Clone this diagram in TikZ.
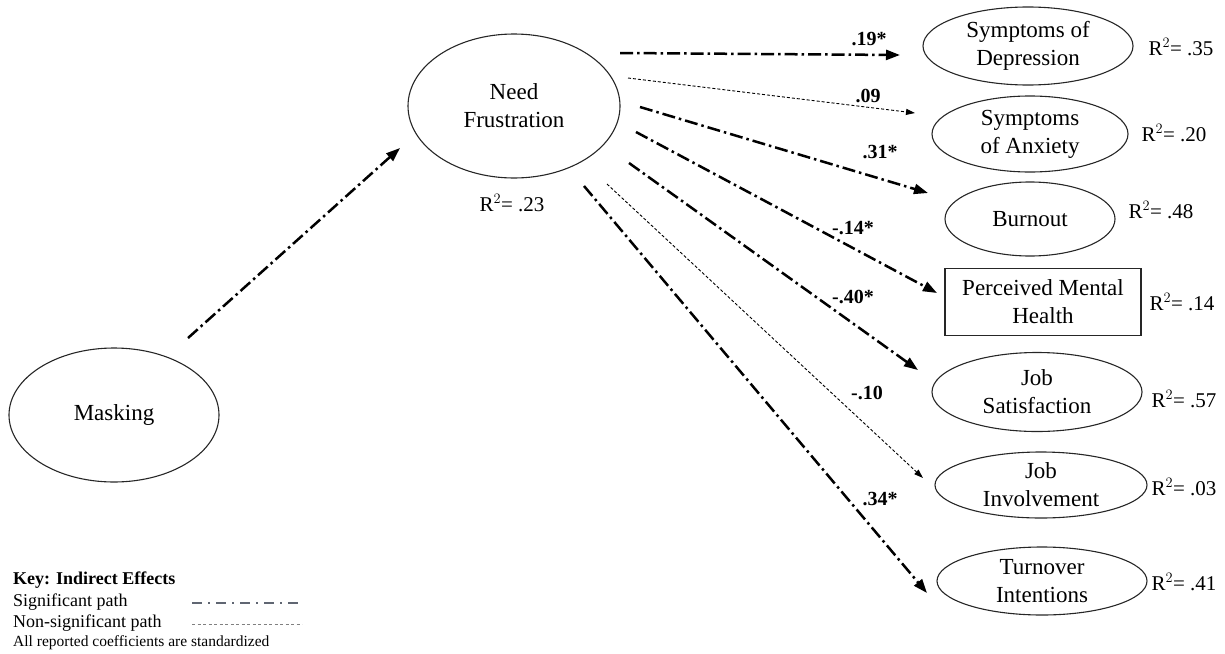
\documentclass[tikz,border=0pt]{standalone}
\usepackage{fontspec}
\setmainfont{Liberation Serif}
\usetikzlibrary{arrows.meta,shapes.geometric}
\definecolor{keygrey}{RGB}{96,102,114}

\begin{document}
\begin{tikzpicture}[x=1pt,y=-1pt,
  latent/.style={ellipse,draw=black!85,line width=1.1pt,inner sep=0pt,align=center,
    font=\fontsize{23}{28}\selectfont},
  observed/.style={rectangle,draw=black!85,line width=1.1pt,inner sep=0pt,align=center,
    font=\fontsize{23}{28}\selectfont},
  rsq/.style={font=\fontsize{21}{25}\selectfont,inner sep=0pt},
  coef/.style={font=\bfseries\fontsize{20}{24}\selectfont,inner sep=0pt},
  keytext/.style={anchor=west,inner sep=0pt,font=\fontsize{18}{22}\selectfont},
  sigpath/.style={line width=2.5pt,dash pattern=on 13pt off 4pt on 2.5pt off 4pt,
    -{Triangle[length=14pt,width=10pt]}},
  nspath/.style={line width=0.9pt,dash pattern=on 3pt off 2pt,
    -{Triangle[length=9pt,width=6pt]}},
]
\useasboundingbox (0,0) rectangle (1225,653);

% constructs
\node[latent,minimum width=210pt,minimum height=134pt] (mask) at (114,415) {Masking};
\node[latent,minimum width=212pt,minimum height=144pt] (nf) at (514,106) {Need\\Frustration};
\node[rsq] (nfr) at (512,203) {R$^2$= .23};

\node[latent,minimum width=210pt,minimum height=78pt] (dep) at (1028,46) {Symptoms of\\Depression};
\node[latent,minimum width=196pt,minimum height=76pt] (anx) at (1030,134) {Symptoms\\of Anxiety};
\node[latent,minimum width=170pt,minimum height=74pt] (burn) at (1030,219) {Burnout};
\node[observed,minimum width=196pt,minimum height=67pt] (pmh) at (1043,302) {Perceived Mental\\Health};
\node[latent,minimum width=210pt,minimum height=79pt] (js) at (1037,392) {Job\\Satisfaction};
\node[latent,minimum width=212pt,minimum height=66pt] (ji) at (1041,485) {Job\\Involvement};
\node[latent,minimum width=210pt,minimum height=68pt] (ti) at (1042,581) {Turnover\\Intentions};

% explained variance
\node[rsq] (depr) at (1181,47) {R$^2$= .35};
\node[rsq] (anxr) at (1174,133) {R$^2$= .20};
\node[rsq] (burnr) at (1161,210) {R$^2$= .48};
\node[rsq] (pmhr) at (1182,302) {R$^2$= .14};
\node[rsq] (jsr) at (1184,399) {R$^2$= .57};
\node[rsq] (jir) at (1184,487) {R$^2$= .03};
\node[rsq] (tir) at (1184,582) {R$^2$= .41};

% path end points
\coordinate (m0) at (188,338);  \coordinate (m1) at (400,148);
\coordinate (a0) at (620,53);   \coordinate (a1) at (900,55);
\coordinate (b0) at (628,78);   \coordinate (b1) at (915,113);
\coordinate (c0) at (640,107);  \coordinate (c1) at (928,193);
\coordinate (d0) at (636,132);  \coordinate (d1) at (937,293);
\coordinate (e0) at (629,163);  \coordinate (e1) at (918,370);
\coordinate (f0) at (607,184);  \coordinate (f1) at (923,478);
\coordinate (g0) at (584,186);  \coordinate (g1) at (927,593);

% paths
\draw[sigpath] (m0) -- (m1);
\draw[sigpath] (a0) -- (a1);
\draw[nspath]  (b0) -- (b1);
\draw[sigpath] (c0) -- (c1);
\draw[sigpath] (d0) -- (d1);
\draw[sigpath] (e0) -- (e1);
\draw[nspath]  (f0) -- (f1);
\draw[sigpath] (g0) -- (g1);

% coefficients
\node[coef] (ka) at (869,39) {.19*};
\node[coef] (kb) at (868,96) {.09};
\node[coef] (kc) at (880,152) {.31*};
\node[coef] (kd) at (853,228) {-.14*};
\node[coef] (ke) at (853,297) {-.40*};
\node[coef] (kf) at (867,393) {-.10};
\node[coef] (kg) at (880,499) {.34*};

% key
\node[keytext,font=\bfseries\fontsize{18}{22}\selectfont] (keyt) at (13,580) {Key: Indirect Effects};
\node[keytext] (keys) at (13,602) {Significant path};
\node[keytext] (keyn) at (13,623) {Non-significant path};
\node[keytext,font=\fontsize{15.5}{19}\selectfont] (keya) at (13,643) {All reported coefficients are standardized};
\coordinate (ls0) at (192,603); \coordinate (ls1) at (302,603);
\coordinate (ln0) at (192,624); \coordinate (ln1) at (302,624);
\draw[line width=1.8pt,draw=keygrey,dash pattern=on 10pt off 6pt on 2pt off 6pt] (ls0) -- (ls1);
\draw[line width=0.7pt,draw=black!50,dash pattern=on 3pt off 2.5pt] (ln0) -- (ln1);
\end{tikzpicture}
\end{document}
